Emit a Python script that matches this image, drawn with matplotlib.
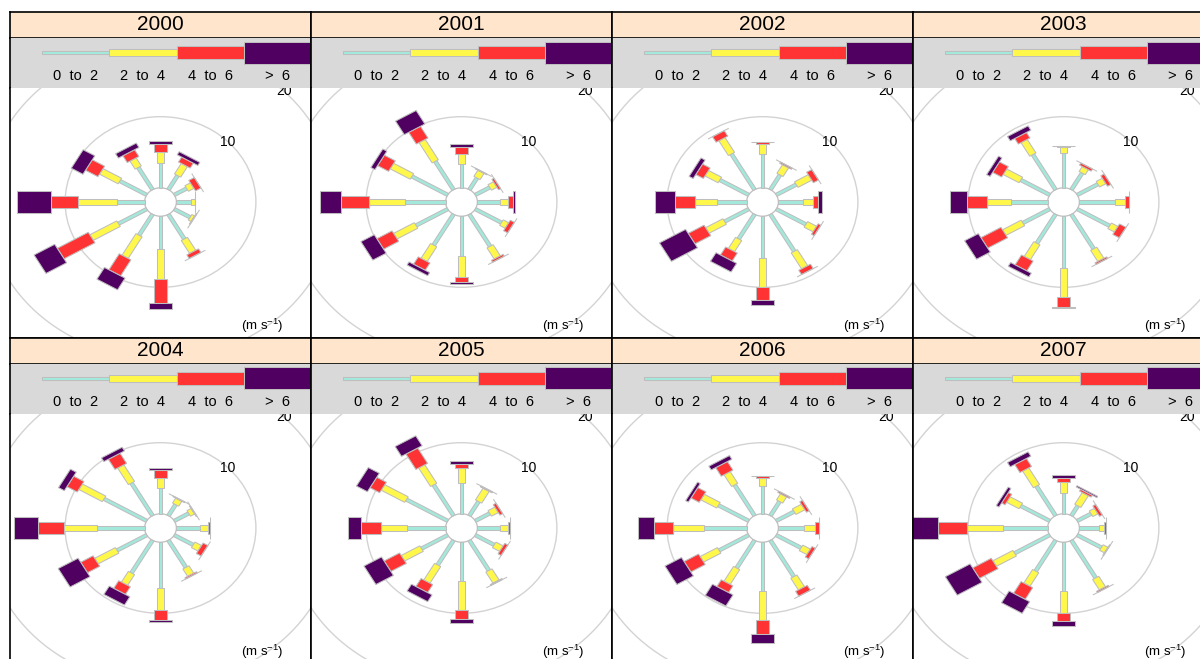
import numpy as np
import matplotlib.pyplot as plt
from matplotlib.patches import Polygon, Circle, Rectangle

plt.rcParams['font.family'] = ['Liberation Sans', 'DejaVu Sans']
plt.rcParams['mathtext.fontset'] = 'custom'
plt.rcParams['mathtext.rm'] = 'Liberation Sans'
plt.rcParams['mathtext.it'] = 'Liberation Sans:italic'

years = [2000, 2001, 2002, 2003, 2004, 2005, 2006, 2007]
directions = [0, 30, 60, 90, 120, 150, 180, 210, 240, 270, 300, 330]
bin_labels = ['0  to  2', '2  to  4', '4  to  6', '>  6']
bin_colors = ['#A2E9DC', '#FFF84A', '#FF3333', '#4F0060']
rings = [10, 20]

# frequency (%) per direction, one column per speed bin
f2000 = [[3.5, 1.6, 1.0, 0.5], [2.3, 1.7, 0.8, 0.5], [1.8, 0.8, 0.8, 0.0],
         [1.8, 0.55, 0.05, 0.0], [2.3, 0.4, 0.1, 0.0], [4.0, 2.1, 0.6, 0.0],
         [4.6, 4.2, 3.4, 0.8], [3.4, 3.5, 2.6, 1.9], [4.1, 3.9, 4.5, 3.0],
         [3.5, 4.9, 3.4, 4.2], [3.9, 2.7, 1.8, 1.7], [3.6, 1.3, 1.1, 0.7]]
f2001 = [[3.3, 1.4, 1.0, 0.4], [1.9, 1.0, 0.1, 0.0], [2.1, 0.8, 0.3, 0.0],
         [2.9, 1.0, 0.6, 0.25], [3.8, 0.8, 0.6, 0.0], [5.2, 1.8, 0.3, 0.0],
         [5.65, 2.85, 0.8, 0.3], [5.0, 2.4, 1.2, 0.5], [4.6, 3.0, 2.2, 1.95],
         [5.1, 4.5, 3.5, 2.7], [5.2, 2.9, 1.6, 0.6], [4.6, 3.3, 1.9, 2.2]]
f2002 = [[4.8, 1.4, 0.2, 0.0], [2.4, 1.4, 0.2, 0.0], [2.9, 2.0, 0.75, 0.0],
         [3.1, 1.3, 0.6, 0.45], [4.3, 1.3, 0.4, 0.0], [6.0, 2.6, 0.7, 0.0],
         [5.9, 4.0, 1.9, 0.7], [4.0, 1.8, 1.3, 1.4], [3.5, 2.5, 2.3, 3.8],
         [3.7, 2.8, 2.5, 2.5], [4.2, 1.9, 1.1, 0.6], [5.8, 2.4, 0.9, 0.0]]
f2003 = [[4.9, 0.8, 0.15, 0.0], [2.7, 0.8, 0.35, 0.0], [3.0, 0.9, 0.5, 0.0],
         [4.5, 1.2, 0.5, 0.0], [4.7, 0.95, 0.95, 0.0], [5.6, 1.8, 0.25, 0.0],
         [7.3, 4.0, 1.4, 0.2], [4.7, 2.4, 1.6, 0.6], [3.9, 2.7, 2.9, 2.0],
         [4.6, 3.0, 2.6, 2.1], [4.2, 2.3, 1.3, 0.5], [5.7, 2.2, 0.9, 0.7]]
f2004 = [[3.6, 1.5, 1.0, 0.3], [1.8, 0.8, 0.1, 0.0], [2.1, 0.6, 0.1, 0.0],
         [2.95, 1.0, 0.25, 0.0], [2.75, 0.95, 0.7, 0.0], [4.4, 1.2, 0.2, 0.0],
         [6.4, 3.2, 1.3, 0.3], [5.3, 1.75, 1.25, 1.35], [4.3, 3.0, 1.8, 2.9],
         [6.0, 4.2, 3.2, 3.0], [6.2, 3.4, 1.5, 0.85], [5.3, 2.7, 1.65, 0.6]]
f2005 = [[4.3, 2.1, 0.6, 0.45], [2.3, 1.9, 0.15, 0.0], [2.1, 1.0, 0.4, 0.0],
         [2.8, 1.0, 0.25, 0.0], [2.75, 1.05, 0.45, 0.0], [4.9, 1.8, 0.15, 0.0],
         [5.5, 4.0, 1.3, 0.5], [4.0, 2.7, 1.3, 1.1], [3.8, 2.7, 2.25, 2.55],
         [4.9, 3.25, 2.45, 1.7], [6.0, 3.4, 1.4, 1.6], [5.0, 3.0, 2.5, 1.6]]
f2006 = [[3.9, 1.1, 0.25, 0.0], [2.3, 1.0, 0.2, 0.0], [2.6, 1.3, 0.4, 0.0],
         [3.2, 1.4, 0.5, 0.0], [3.6, 1.1, 0.5, 0.0], [5.9, 1.9, 0.8, 0.0],
         [6.9, 4.0, 2.0, 1.3], [4.5, 2.4, 1.1, 1.8], [4.3, 2.5, 2.1, 2.4],
         [5.3, 3.9, 2.4, 2.1], [4.4, 2.3, 1.2, 0.4], [5.0, 1.9, 1.4, 0.6]]
f2007 = [[2.9, 1.6, 0.5, 0.4], [1.6, 1.9, 0.3, 0.2], [2.0, 0.75, 0.4, 0.0],
         [2.5, 0.6, 0.3, 0.0], [3.5, 0.7, 0.1, 0.0], [6.1, 1.7, 0.2, 0.0],
         [6.8, 3.1, 1.25, 0.7], [5.0, 2.2, 1.9, 1.9], [5.1, 2.9, 2.7, 3.6],
         [5.6, 4.5, 3.7, 3.6], [4.2, 1.8, 0.5, 0.4], [4.8, 2.7, 1.3, 0.7]]
freqs = [f2000, f2001, f2002, f2003, f2004, f2005, f2006, f2007]

W, H = 1200, 659
offset = 2
half_w = [0.23, 0.45, 0.85, 1.5]
leg_half = [1.6, 3.2, 6.1, 11]
kx, ky = 7.95, 7.11
pw, strip_h, leg_h, plot_h = 301, 26, 50, 250

fig = plt.figure(figsize=(W / 100, H / 100), dpi=100)


def px_axes(x, y, w, h):
    ax = fig.add_axes([x / W, 1 - (y + h) / H, w / W, h / H])
    ax.set_xticks([])
    ax.set_yticks([])
    for s in ax.spines.values():
        s.set_linewidth(1.2)
        s.set_color('black')
    return ax


def paddle(ax, wd, r1, r2, hw, col):
    a = np.deg2rad(wd)
    s, c = np.sin(a), np.cos(a)
    r1 += offset
    r2 += offset
    pts = [(r1 * s - hw * c, r1 * c + hw * s), (r1 * s + hw * c, r1 * c - hw * s),
           (r2 * s + hw * c, r2 * c - hw * s), (r2 * s - hw * c, r2 * c + hw * s)]
    ax.add_patch(Polygon(pts, closed=True, fc=col, ec='#BEBEBE', lw=0.75))


for i, yr in enumerate(years):
    x0 = 10 + pw * (i % 4)
    y0 = 12 + 326 * (i // 4)

    st = px_axes(x0, y0, pw, strip_h)
    st.set_facecolor('#FFE5CC')
    st.text(0.5, 0.5, str(yr), ha='center', va='center', fontsize=15,
            transform=st.transAxes)

    lg = px_axes(x0, y0 + strip_h, pw, leg_h)
    lg.set_facecolor('#D9D9D9')
    lg.spines['top'].set_visible(False)
    lg.spines['bottom'].set_visible(False)
    lg.set_xlim(0, pw)
    lg.set_ylim(leg_h, 0)
    seg = 67.3
    for j in range(4):
        lg.add_patch(Rectangle((32 + seg * j, 14.5 - leg_half[j]), seg, 2 * leg_half[j],
                               fc=bin_colors[j], ec='#BEBEBE', lw=0.75))
        lg.text(32 + seg * (j + 0.5), 37.5, bin_labels[j], ha='center', va='center',
                fontsize=10.5)

    ax = px_axes(x0, y0 + strip_h + leg_h, pw, plot_h)
    ax.spines['top'].set_visible(False)
    ax.set_xlim(-150.5 / kx, 150.5 / kx)
    ax.set_ylim(-(plot_h - 114) / ky, 114 / ky)
    for r in rings:
        ax.add_patch(Circle((0, 0), r + offset, fill=False, ec='#D3D3D3', lw=1))
        xy = (r + offset) * np.sin(np.pi / 4)
        ax.text(xy, xy, str(r), ha='center', va='center', fontsize=10, clip_on=True)
    ax.add_patch(Circle((0, 0), offset, fc='white', ec='#BEBEBE', lw=0.9))

    data = freqs[i]
    for k, wd in enumerate(directions):
        cum = np.concatenate([[0], np.cumsum(data[k])])
        for j in range(4):
            paddle(ax, wd, cum[j], cum[j + 1], half_w[j], bin_colors[j])

    ax.text(12.8, -17.4, '(m s$^{-1}$)', ha='center', va='center', fontsize=9.5)

fig.savefig('out.png', dpi=100)
